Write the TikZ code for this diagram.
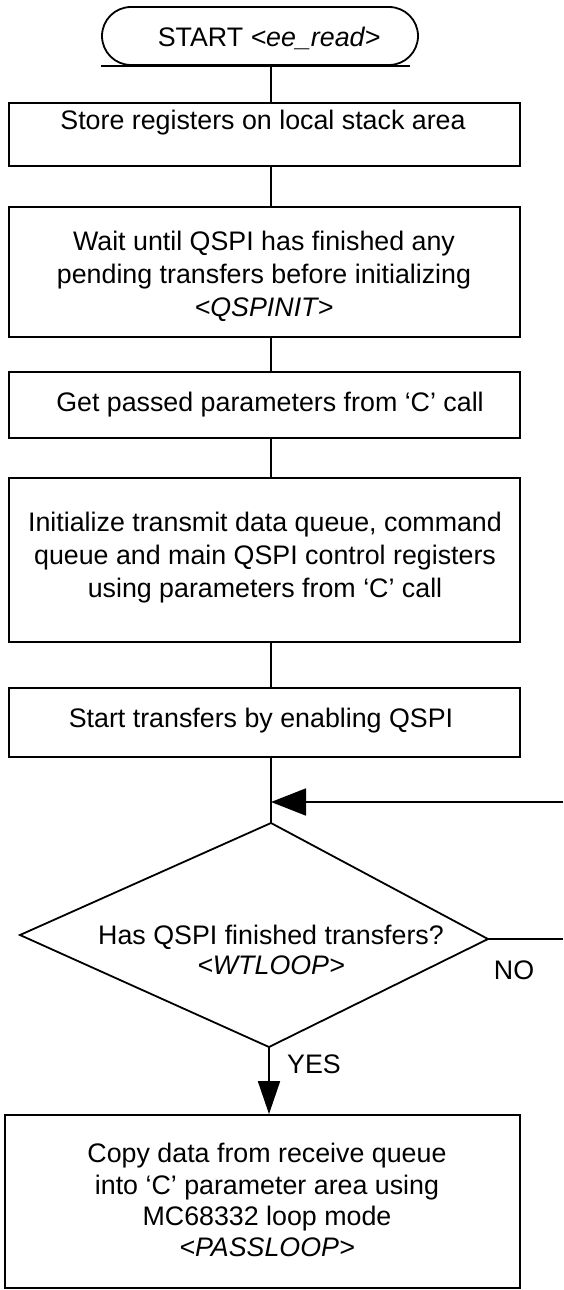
\documentclass[tikz,border=0pt]{standalone}
\usepackage{fontspec}
\setmainfont{Liberation Sans}
\usetikzlibrary{arrows.meta}
\begin{document}
\begin{tikzpicture}[x=1pt,y=-1pt,
  line width=1.8pt,
  stepbox/.style={draw, rectangle, inner sep=0pt},
  termbox/.style={draw, rectangle, rounded corners=29pt, inner sep=0pt},
  txt/.style={inner sep=0pt, align=center, font=\fontsize{26.8}{33}\selectfont},
  lbl/.style={inner sep=0pt, font=\fontsize{26.8}{33}\selectfont},
  leftarrow/.style={-{Triangle[length=35pt,width=27pt]}},
  downarrow/.style={-{Triangle[length=33pt,width=22pt]}}
]
\useasboundingbox (0,0) rectangle (563,1290);
\coordinate (spine) at (271,0);

% terminator
\node[termbox, minimum width=316pt, minimum height=58pt] (term) at (260,36) {};
\node[txt] (termtxt) at (269,38) {START \textit{<ee\_read>}};
\draw (term.south west) -- ([xshift=-9pt]term.south east);

% box 1
\node[stepbox, minimum width=511pt, minimum height=63pt] (b1) at (264.5,134.5) {};
\node[txt] (t1) at (263,123) {Store registers on local stack area};

% box 2
\node[stepbox, minimum width=511pt, minimum height=130pt] (b2) at (264.5,272) {};
\node[txt] (t2) at (264,276) {Wait until QSPI has finished any\\pending transfers before initializing\\\textit{<QSPINIT>}};

% box 3
\node[stepbox, minimum width=511pt, minimum height=66pt] (b3) at (264.5,405) {};
\node[txt] (t3) at (270,405) {Get passed parameters from ‘C’ call};

% box 4
\node[stepbox, minimum width=511pt, minimum height=164pt] (b4) at (264.5,560) {};
\node[txt] (t4) at (265,558) {Initialize transmit data queue, command\\queue and main QSPI control registers\\using parameters from ‘C’ call};

% box 5
\node[stepbox, minimum width=511pt, minimum height=69pt] (b5) at (264.5,722.5) {};
\node[txt] (t5) at (261,721) {Start transfers by enabling QSPI};

% decision
\coordinate (dtop) at (271,823);
\coordinate (dleft) at (20,935);
\coordinate (dright) at (488,939);
\coordinate (dbot) at (269,1047);
\draw[line join=miter] (dtop) -- (dleft) -- (dbot) -- (dright) -- cycle;
\node[txt] (dtxt) at (271,950) {Has QSPI finished transfers?\\[-3pt]\textit{<WTLOOP>}};

% box 6
\node[stepbox, minimum width=515pt, minimum height=173pt] (b6) at (262.5,1201.5) {};
\node[txt] (t6) at (267,1200) {Copy data from receive queue\\[-1pt]into ‘C’ parameter area using\\[-2pt]MC68332 loop mode\\[-2pt]\textit{<PASSLOOP>}};

% connectors
\draw (term.south -| spine) -- (b1.north -| spine);
\draw (b1.south -| spine) -- (b2.north -| spine);
\draw (b2.south -| spine) -- (b3.north -| spine);
\draw (b3.south -| spine) -- (b4.north -| spine);
\draw (b4.south -| spine) -- (b5.north -| spine);
\draw (b5.south -| spine) -- (dtop);
\coordinate (join) at (271,802);
\coordinate (loopin) at (563,802);
\coordinate (loopout) at (563,939);
\draw[leftarrow] (loopin) -- (join);
\draw (dright) -- (loopout);
\draw[downarrow] (dbot) -- (dbot |- b6.north);

% labels
\node[lbl] (no) at (514,970) {NO};
\node[lbl] (yes) at (314,1064) {YES};
\end{tikzpicture}
\end{document}
